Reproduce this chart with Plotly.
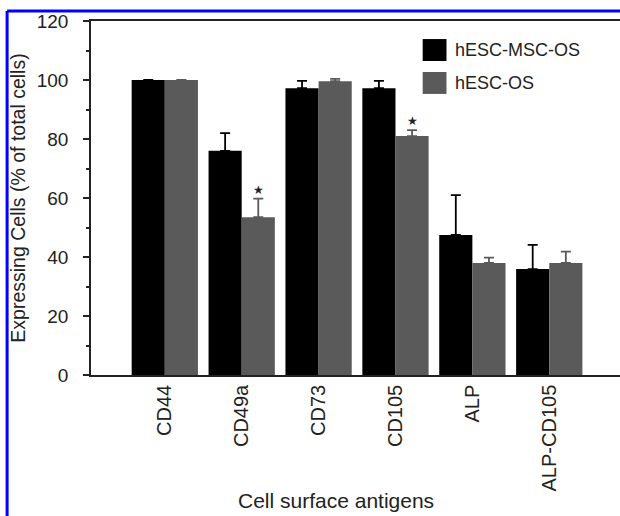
import plotly.graph_objects as go

categories = ["CD44", "CD49a", "CD73", "CD105", "ALP", "ALP-CD105"]
msc_os = [100, 76, 97.2, 97.2, 47.5, 35.9]
msc_os_err = [0, 6, 2.5, 2.5, 13.5, 8.2]
os_vals = [100, 53.5, 99.6, 81, 38, 38]
os_err = [0, 6.3, 0.8, 2, 1.8, 3.8]
series_names = ["hESC-MSC-OS", "hESC-OS"]
series_colors = ["#000000", "#5a5a5a"]
star_cats = ["CD49a", "CD105"]
y_ticks = [0, 20, 40, 60, 80, 100, 120]

FONT = "Liberation Sans, Arial, sans-serif"
TXT = "#222222"

fig = go.Figure()
for name, vals, errs, col in [
    (series_names[0], msc_os, msc_os_err, series_colors[0]),
    (series_names[1], os_vals, os_err, series_colors[1]),
]:
    fig.add_trace(go.Bar(
        x=categories, y=vals, name=name,
        marker=dict(color=col, line=dict(width=0)),
        error_y=dict(type="data", array=errs, arrayminus=[0] * len(errs),
                     symmetric=False, color=col, thickness=1.8, width=5,
                     visible=True),
        showlegend=False,
    ))

# significance stars above the hESC-OS bars
for c in star_cats:
    i = categories.index(c)
    fig.add_annotation(x=c, y=os_vals[i] + os_err[i], xref="x", yref="y",
                       xshift=16.6, yshift=0, yanchor="bottom",
                       text="★", showarrow=False,
                       font=dict(size=12, color="#222222", family="DejaVu Sans"))

# manual legend (large square swatches)
leg_y = [0.918, 0.825]
for name, col, ly in zip(series_names, series_colors, leg_y):
    fig.add_shape(type="rect", xref="paper", yref="paper",
                  x0=0.627, x1=0.672, y0=ly - 0.031, y1=ly + 0.031,
                  fillcolor=col, line=dict(width=0))
    fig.add_annotation(xref="paper", yref="paper", x=0.684, y=ly,
                       xanchor="left", yanchor="middle", text=name,
                       showarrow=False, font=dict(size=18, color=TXT, family=FONT))

# x-axis title (placed as in the original figure)
fig.add_annotation(xref="paper", yref="paper", x=0.463, y=-0.354,
                   xanchor="center", yanchor="middle", text="Cell surface antigens",
                   showarrow=False, font=dict(size=21, color=TXT, family=FONT))

# blue frame lines
fig.add_shape(type="line", xref="paper", yref="paper", x0=-0.1586, x1=1.0,
              y0=1.0282, y1=1.0282, line=dict(color="#0000ff", width=3))
fig.add_shape(type="line", xref="paper", yref="paper", x0=-0.1586, x1=-0.1586,
              y0=1.0282, y1=-0.40, line=dict(color="#0000ff", width=3))

fig.update_layout(
    width=620, height=516,
    margin=dict(l=91, r=0, t=21, b=141),
    paper_bgcolor="white", plot_bgcolor="white",
    barmode="group", bargap=0.138, bargroupgap=0,
    font=dict(family=FONT, size=18, color=TXT),
)
fig.update_xaxes(
    range=[-0.96, 5.92], showline=True, linecolor="#222222", linewidth=1.5,
    mirror=True, ticks="", tickangle=-90, showgrid=False,
    tickfont=dict(size=20, color=TXT, family=FONT),
)
fig.update_yaxes(
    range=[0, 120], tickvals=y_ticks, showline=True, linecolor="#222222",
    linewidth=1.5, ticks="outside", ticklen=6, tickwidth=1.5, tickcolor="#222222",
    minor=dict(dtick=10, ticks="outside", ticklen=3, tickcolor="#222222", tickwidth=1.5),
    showgrid=False, zeroline=False, ticklabelstandoff=11,
    tickfont=dict(size=19, color=TXT, family=FONT),
    title=dict(text="Expressing Cells (% of total cells)", standoff=6,
               font=dict(size=19.5, color=TXT, family=FONT)),
)

fig.write_html("out.html", config={"displayModeBar": False},
               post_script="document.body.style.margin='0';document.body.style.padding='0';")
